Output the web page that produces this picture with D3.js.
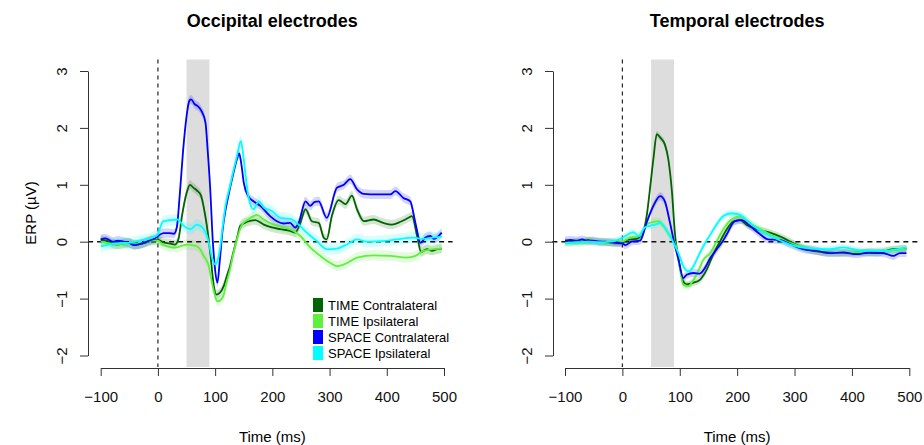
<!DOCTYPE html>
<html>
<head>
<meta charset="utf-8">
<script src="https://cdn.jsdelivr.net/npm/d3@7"></script>
<style>
  body { margin: 0; background: #fff; }
  text { font-family: "Liberation Sans", Arial, sans-serif; }
</style>
</head>
<body>
<div class="svg-container"></div>
<script>
// ---- data (time in ms, ERP in µV) ----
const seriesNames = ["TIME Contralateral", "TIME Ipsilateral", "SPACE Contralateral", "SPACE Ipsilateral"];
const seriesColors = ["#006400", "#5ef03c", "#0000ff", "#00ffff"];
const panelTitles = ["Occipital electrodes", "Temporal electrodes"];
const xTicks = [-100, 0, 100, 200, 300, 400, 500];
const yTicks = [-2, -1, 0, 1, 2, 3];
const window_ms = [50, 90];

const occTimeContra = [[-100,0.03],[-90,0.02],[-80,-0.03],[-70,-0.05],[-60,-0.03],[-50,-0.02],[-40,-0.05],[-30,-0.04],[-20,-0.01],[-10,0.02],[0,0.03],[10,-0.01],[20,-0.03],[30,-0.05],[36,0.05],[42,0.45],[50,0.85],[56,1.0],[62,0.95],[68,0.9],[75,0.82],[82,0.5],[88,0.1],[93,-0.35],[98,-0.8],[102,-0.93],[108,-0.9],[115,-0.78],[120,-0.62],[126,-0.43],[132,-0.18],[138,0.05],[144,0.28],[156,0.35],[170,0.38],[185,0.3],[199,0.25],[214,0.22],[231,0.19],[240,0.16],[249,0.33],[258,0.57],[269,0.36],[281,0.33],[290,0.07],[295,0.04],[304,0.45],[316,0.73],[328,0.66],[339,0.81],[348,0.57],[360,0.36],[377,0.39],[394,0.33],[409,0.3],[424,0.35],[438,0.42],[444,0.45],[453,0.1],[460,-0.18],[470,-0.13],[479,-0.16],[488,-0.13],[496,-0.12]];
const occTimeIpsi = [[-100,0.0],[-90,-0.02],[-80,-0.04],[-70,-0.05],[-60,-0.04],[-50,-0.03],[-40,-0.05],[-30,-0.03],[-20,0.0],[-10,0.02],[0,0.02],[8,-0.05],[16,-0.08],[25,-0.1],[33,-0.1],[42,-0.07],[51,-0.05],[60,-0.06],[68,-0.08],[75,-0.15],[80,-0.25],[85,-0.33],[89,-0.43],[93,-0.65],[97,-0.84],[104,-1.05],[110,-1.02],[115,-0.93],[120,-0.72],[126,-0.49],[132,-0.2],[138,0.04],[147,0.3],[158,0.39],[173,0.47],[185,0.39],[202,0.3],[220,0.25],[237,0.19],[249,0.1],[266,-0.1],[284,-0.25],[301,-0.37],[313,-0.43],[325,-0.4],[348,-0.28],[377,-0.24],[406,-0.25],[435,-0.28],[450,-0.25],[464,-0.16],[482,-0.13],[496,-0.12]];
const occSpaceContra = [[-100,0.04],[-92,0.06],[-85,0.03],[-78,0.0],[-70,0.02],[-60,0.0],[-50,-0.02],[-42,-0.06],[-35,-0.05],[-25,-0.02],[-15,0.02],[-5,0.06],[0,0.1],[10,0.15],[20,0.15],[28,0.14],[33,0.25],[38,0.8],[44,1.6],[50,2.2],[55,2.48],[58,2.5],[64,2.42],[70,2.38],[76,2.3],[83,2.1],[87,1.6],[91,1.0],[96,0.0],[100,-0.5],[104,-0.72],[108,-0.35],[113,0.2],[118,0.55],[123,0.8],[132,1.21],[138,1.45],[142,1.55],[146,1.35],[150,1.04],[158,0.8],[167,0.71],[179,0.63],[196,0.45],[208,0.36],[220,0.32],[231,0.33],[240,0.25],[246,0.33],[258,0.71],[266,0.63],[274,0.7],[281,0.71],[295,0.42],[313,0.95],[325,1.0],[336,1.1],[348,0.92],[360,0.84],[383,0.83],[406,0.83],[415,0.89],[429,0.77],[441,0.71],[450,0.33],[459,-0.02],[467,0.07],[476,0.1],[482,0.05],[496,0.16]];
const occSpaceIpsi = [[-100,-0.08],[-90,-0.06],[-80,-0.04],[-70,-0.03],[-60,-0.02],[-50,-0.02],[-40,0.0],[-30,0.02],[-20,0.04],[-10,0.07],[0,0.13],[5,0.28],[10,0.36],[22,0.38],[34,0.39],[45,0.28],[57,0.22],[68,0.3],[75,0.27],[80,0.22],[85,0.12],[89,-0.02],[94,-0.26],[100,-0.4],[103,-0.37],[109,-0.08],[113,0.25],[118,0.63],[126,0.98],[132,1.25],[138,1.5],[145,1.77],[150,1.45],[154,1.1],[158,0.8],[167,0.57],[176,0.71],[185,0.6],[199,0.54],[214,0.42],[231,0.4],[246,0.3],[260,0.16],[278,0.01],[295,-0.13],[313,-0.12],[330,-0.05],[348,0.04],[365,0.0],[389,0.01],[418,0.04],[447,0.07],[464,0.05],[480,0.07],[496,0.09]];

const tempTimeContra = [[-100,0.0],[-90,-0.01],[-80,0.01],[-70,0.0],[-60,0.03],[-50,0.01],[-40,0.0],[-30,-0.01],[-20,-0.02],[-10,-0.03],[0,-0.02],[8,0.03],[25,0.05],[37,0.19],[43,0.5],[48,0.92],[54,1.45],[60,1.89],[66,1.83],[74,1.71],[80,1.45],[86,0.92],[92,0.1],[96,-0.2],[100,-0.43],[106,-0.7],[112,-0.75],[124,-0.72],[135,-0.67],[147,-0.49],[158,-0.23],[170,0.0],[182,0.22],[193,0.35],[205,0.38],[216,0.3],[234,0.22],[257,0.16],[280,0.07],[298,-0.03],[327,-0.15],[356,-0.19],[385,-0.2],[414,-0.19],[443,-0.2],[472,-0.13],[495,-0.12]];
const tempTimeIpsi = [[-100,-0.02],[-80,-0.02],[-60,0.0],[-40,-0.01],[-20,-0.02],[0,0.0],[13,0.07],[31,0.1],[42,0.3],[54,0.35],[63,0.36],[71,0.28],[83,0.1],[92,-0.02],[100,-0.46],[106,-0.76],[115,-0.78],[124,-0.67],[132,-0.52],[141,-0.32],[153,-0.2],[164,0.0],[176,0.22],[190,0.39],[205,0.45],[222,0.33],[246,0.19],[269,0.07],[292,-0.02],[327,-0.13],[361,-0.2],[397,-0.19],[431,-0.18],[466,-0.16],[495,-0.13]];
const tempSpaceContra = [[-100,0.02],[-90,0.03],[-80,0.02],[-70,0.04],[-60,0.01],[-50,0.02],[-40,0.0],[-30,0.0],[-20,-0.01],[-10,-0.02],[0,-0.03],[5,-0.06],[16,0.0],[31,0.02],[42,0.33],[54,0.63],[66,0.8],[74,0.71],[83,0.33],[90,0.0],[98,-0.32],[106,-0.64],[112,-0.58],[124,-0.55],[135,-0.56],[144,-0.46],[153,-0.29],[164,-0.14],[173,-0.02],[182,0.13],[196,0.36],[208,0.38],[222,0.28],[240,0.13],[254,0.04],[274,0.03],[292,-0.04],[315,-0.13],[338,-0.16],[361,-0.2],[385,-0.19],[408,-0.22],[431,-0.19],[455,-0.2],[472,-0.25],[484,-0.2],[495,-0.2]];
const tempSpaceIpsi = [[-100,-0.02],[-80,-0.01],[-60,0.0],[-40,-0.01],[-20,0.0],[0,0.07],[10,0.13],[19,0.17],[28,0.1],[39,0.25],[48,0.28],[57,0.3],[66,0.33],[74,0.25],[83,0.1],[92,-0.08],[100,-0.26],[106,-0.43],[115,-0.52],[124,-0.43],[132,-0.26],[141,-0.08],[153,0.12],[164,0.3],[176,0.45],[190,0.5],[205,0.47],[222,0.33],[246,0.16],[269,0.05],[292,-0.05],[327,-0.12],[361,-0.13],[385,-0.1],[420,-0.16],[455,-0.16],[495,-0.1]];

// standard error band half-widths, one per series
const occSE = [0.08, 0.09, 0.08, 0.1];
const tempSE = [0.06, 0.07, 0.07, 0.06];

const width = 924, height = 445;

const svg = d3.select('.svg-container')
    .append('svg')
    .attr('width', width)
    .attr('height', height);

function drawPanel(opts) {
  const x = d3.scaleLinear().domain([-100, 500]).range(opts.xRange);
  const y = d3.scaleLinear().domain([-2, 3]).range([355.5, 71]);
  const top = 59.5, bottom = 367;

  const g = svg.append('g');

  // highlighted time window
  g.append('rect')
      .attr('x', x(window_ms[0]))
      .attr('y', top)
      .attr('width', x(window_ms[1]) - x(window_ms[0]))
      .attr('height', bottom - top)
      .attr('fill', '#dddddd');

  // stimulus onset
  g.append('line')
      .attr('x1', x(0)).attr('x2', x(0))
      .attr('y1', top).attr('y2', bottom)
      .attr('stroke', '#222').attr('stroke-width', 1.2)
      .attr('stroke-dasharray', '4,4');

  const area = d3.area()
      .curve(d3.curveMonotoneX)
      .x(d => x(d[0]));
  const line = d3.line()
      .curve(d3.curveMonotoneX)
      .x(d => x(d[0]))
      .y(d => y(d[1]));

  opts.series.forEach(function(s, i) {
    area.y0(d => y(d[1] - opts.se[i])).y1(d => y(d[1] + opts.se[i]));
    g.append('path')
        .datum(s)
        .attr('d', area)
        .attr('fill', seriesColors[i])
        .attr('fill-opacity', 0.17);
  });

  // zero line
  g.append('line')
      .attr('x1', x(-122)).attr('x2', x(515))
      .attr('y1', y(0)).attr('y2', y(0))
      .attr('stroke', '#111').attr('stroke-width', 1.5)
      .attr('stroke-dasharray', '5,4');

  opts.series.forEach(function(s, i) {
    g.append('path')
        .datum(s)
        .attr('d', line)
        .attr('fill', 'none')
        .attr('stroke', seriesColors[i])
        .attr('stroke-width', 1.8)
        .attr('stroke-linejoin', 'round');
  });

  // axes
  const xAxis = g.append('g')
      .attr('transform', 'translate(0,368)')
      .call(d3.axisBottom(x).tickValues(xTicks).tickFormat(d3.format('d'))
        .tickSize(8).tickSizeOuter(0).tickPadding(15));
  const yAxis = g.append('g')
      .attr('transform', 'translate(' + opts.yAxisX + ',0)')
      .call(d3.axisLeft(y).tickValues(yTicks).tickFormat(d3.format('d'))
        .tickSize(8).tickSizeOuter(0));

  [xAxis, yAxis].forEach(function(a) {
    a.select('.domain').attr('stroke', '#333');
    a.selectAll('.tick line').attr('stroke', '#333');
    a.selectAll('text')
        .attr('fill', '#111')
        .style('font-size', '15px');
  });
  yAxis.selectAll('.tick text')
      .attr('transform', 'rotate(-90)')
      .attr('x', 0)
      .attr('y', -21)
      .attr('dy', 0)
      .attr('text-anchor', 'middle');

  g.append('text')
      .attr('x', (opts.xRange[0] + opts.xRange[1]) / 2)
      .attr('y', 27)
      .attr('text-anchor', 'middle')
      .style('font-size', '18px')
      .style('font-weight', 'bold')
      .text(opts.title);

  g.append('text')
      .attr('x', (opts.xRange[0] + opts.xRange[1]) / 2)
      .attr('y', 442)
      .attr('text-anchor', 'middle')
      .style('font-size', '15px')
      .text('Time (ms)');

  return g;
}

const left = drawPanel({
  xRange: [100.7, 444],
  yAxisX: 88,
  title: panelTitles[0],
  series: [occTimeContra, occTimeIpsi, occSpaceContra, occSpaceIpsi],
  se: occSE
});

drawPanel({
  xRange: [565, 909.3],
  yAxisX: 553,
  title: panelTitles[1],
  series: [tempTimeContra, tempTimeIpsi, tempSpaceContra, tempSpaceIpsi],
  se: tempSE
});

svg.append('text')
    .attr('transform', 'translate(36,213) rotate(-90)')
    .attr('text-anchor', 'middle')
    .style('font-size', '15px')
    .text('ERP (µV)');

// legend
const legend = left.selectAll('.legend')
    .data(seriesNames)
    .enter().append('g')
      .attr('class', 'legend')
      .attr('transform', function(d, i) { return 'translate(313,' + (305 + i * 16) + ')'; });

legend.append('rect')
    .attr('x', 0)
    .attr('y', -7)
    .attr('width', 10)
    .attr('height', 14)
    .attr('fill', function(d, i) { return seriesColors[i]; });

legend.append('text')
    .attr('x', 15)
    .attr('y', 0)
    .attr('dy', '0.35em')
    .style('font-size', '13px')
    .text(function(d) { return d; });
</script>
</body>
</html>
